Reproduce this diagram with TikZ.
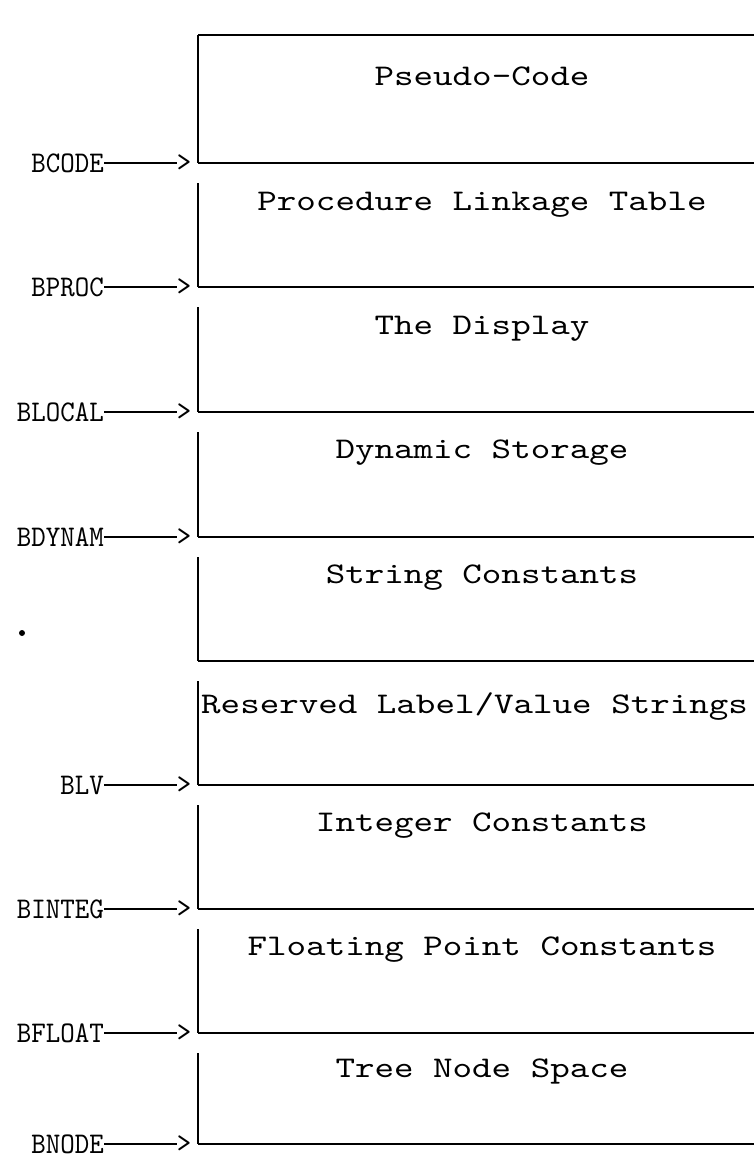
\documentclass[tikz,border=0pt]{standalone}
\usepackage{fontspec}
\newfontfamily\twbig{lmmono10-regular.otf}[FakeStretch=1.24]
\newfontfamily\twsmall{lmmono10-regular.otf}[FakeStretch=0.92]
\begin{document}
\begin{tikzpicture}[x=1pt,y=-1pt,
  rule/.style={line width=1.8pt},
  side/.style={line width=1.3pt},
  lead/.style={line width=1.3pt},
  area/.style={font=\twbig\fontsize{30}{32}\selectfont, inner sep=0pt},
  ptr/.style={font=\twsmall\fontsize{30}{32}\selectfont, inner sep=0pt}]
\useasboundingbox (0,0) rectangle (753,1160);

% boundary levels of the memory areas
\foreach \k/\yy in {0/35,1/163,2/287,3/412,4/537,5/661,6/785,7/909,8/1033,9/1144}{
  \coordinate (b\k) at (198,\yy);
  \coordinate (e\k) at (760,\yy);
  \coordinate (t\k) at (198,\yy+20);
}

% top edge and first left side
\draw[rule] (b0) -- (e0);
\draw[side] (b0) -- (b1);
% left side segments of the lower areas
\foreach \k [evaluate=\k as \n using int(\k+1)] in {1,...,8}
  \draw[side] (t\k) -- (b\n);
% bottom edge of every area
\foreach \k in {1,...,9}
  \draw[rule] (b\k) -- (e\k);

% area names
\foreach \k/\yy/\txt in {0/76/Pseudo-Code,1/205/Procedure Linkage Table,
    2/329/The Display,3/453/Dynamic Storage,4/578/String Constants,
    6/826/Integer Constants,7/950/Floating Point Constants,
    8/1071/Tree Node Space}{
  \node[area] (a\k) at (482,\yy) {\txt};
}
\node[area,anchor=west] (a5) at (201,707) {Reserved Label/Value Strings};

% base pointers
\foreach \k/\txt in {1/BCODE,2/BPROC,3/BLOCAL,4/BDYNAM,6/BLV,7/BINTEG,8/BFLOAT,9/BNODE}{
  \node[ptr,anchor=east] (p\k) at (104,0 |- b\k) {\txt};
  \node[ptr] (g\k) at (184,0 |- b\k) {>};
  \draw[lead] (p\k.east) -- (g\k.west);
}

\fill (22,633) circle (3);
\end{tikzpicture}
\end{document}
